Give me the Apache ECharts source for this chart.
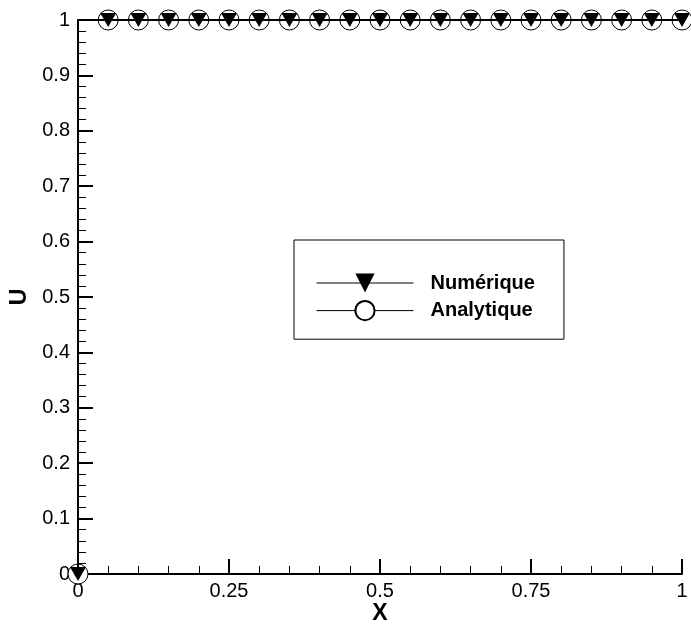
<!DOCTYPE html>
<html>
<head>
<meta charset="utf-8">
<title>U(X)</title>
<script src="https://cdn.jsdelivr.net/npm/echarts@6/dist/echarts.min.js"></script>
<style>
  html, body { margin: 0; padding: 0; background: #fff; }
  #chart { width: 691px; height: 624px; }
</style>
</head>
<body>
<div id="chart"></div>
<script>
// Sample positions along X
const xValues = [0, 0.05, 0.1, 0.15, 0.2, 0.25, 0.3, 0.35, 0.4, 0.45, 0.5,
                 0.55, 0.6, 0.65, 0.7, 0.75, 0.8, 0.85, 0.9, 0.95, 1];
// Numerical solution
const uNumerique = [0, 1, 1, 1, 1, 1, 1, 1, 1, 1, 1, 1, 1, 1, 1, 1, 1, 1, 1, 1, 1];
// Analytical solution
const uAnalytique = [0, 1, 1, 1, 1, 1, 1, 1, 1, 1, 1, 1, 1, 1, 1, 1, 1, 1, 1, 1, 1];

const seriesNames = ['Numérique', 'Analytique'];

const pairs = (xs, ys) => xs.map((x, i) => [x, ys[i]]);

const font = 'Liberation Sans, Arial, sans-serif';

const axisCommon = {
  min: 0,
  max: 1,
  axisLine: { show: true, onZero: false, lineStyle: { color: '#000', width: 2 } },
  axisTick: { show: true, inside: true, length: 15, lineStyle: { color: '#000', width: 2 } },
  minorTick: { show: true, splitNumber: 5, length: 8, lineStyle: { color: '#000', width: 1 } },
  splitLine: { show: false },
  axisLabel: { color: '#000', fontFamily: font, fontSize: 20 },
  nameTextStyle: { color: '#000', fontFamily: font, fontSize: 23, fontWeight: 'bold' }
};

const chart = echarts.init(document.getElementById('chart'), null, { renderer: 'canvas' });

chart.setOption({
  animation: false,
  backgroundColor: '#fff',
  grid: { left: 78, right: 9, top: 20, bottom: 50, containLabel: false, outerBoundsMode: 'none' },
  xAxis: Object.assign({}, axisCommon, {
    type: 'value',
    interval: 0.25,
    name: 'X',
    nameLocation: 'middle',
    nameGap: 28,
    nameMoveOverlap: false,
    axisLabel: Object.assign({}, axisCommon.axisLabel, { margin: 7 })
  }),
  yAxis: Object.assign({}, axisCommon, {
    type: 'value',
    interval: 0.1,
    name: 'U',
    nameLocation: 'middle',
    nameGap: 47,
    nameRotate: 90,
    axisLabel: Object.assign({}, axisCommon.axisLabel, { margin: 8 })
  }),
  legend: {
    data: seriesNames,
    orient: 'vertical',
    left: 294,
    top: 240,
    padding: [33, 29, 18, 22],
    itemGap: 7,
    itemWidth: 97,
    itemHeight: 24,
    borderColor: '#000',
    borderWidth: 1,
    borderRadius: 0,
    backgroundColor: '#fff',
    lineStyle: { width: 1, color: '#000' },
    textStyle: { color: '#000', fontFamily: font, fontSize: 20, fontWeight: 'bold', padding: [0, 0, 0, 12] }
  },
  series: [
    {
      name: seriesNames[1],
      type: 'line',
      step: 'start',
      data: pairs(xValues, uAnalytique),
      symbol: 'circle',
      symbolSize: 20,
      showAllSymbol: true,
      clip: false,
      z: 2,
      lineStyle: { color: '#000', width: 2 },
      itemStyle: { color: '#fff', borderColor: '#000', borderWidth: 1 }
    },
    {
      name: seriesNames[0],
      type: 'line',
      step: 'start',
      data: pairs(xValues, uNumerique),
      symbol: 'triangle',
      symbolRotate: 180,
      symbolSize: [16, 14],
      showAllSymbol: true,
      clip: false,
      z: 3,
      lineStyle: { color: '#000', width: 2 },
      itemStyle: { color: '#000', borderWidth: 0 }
    }
  ]
});
</script>
</body>
</html>
